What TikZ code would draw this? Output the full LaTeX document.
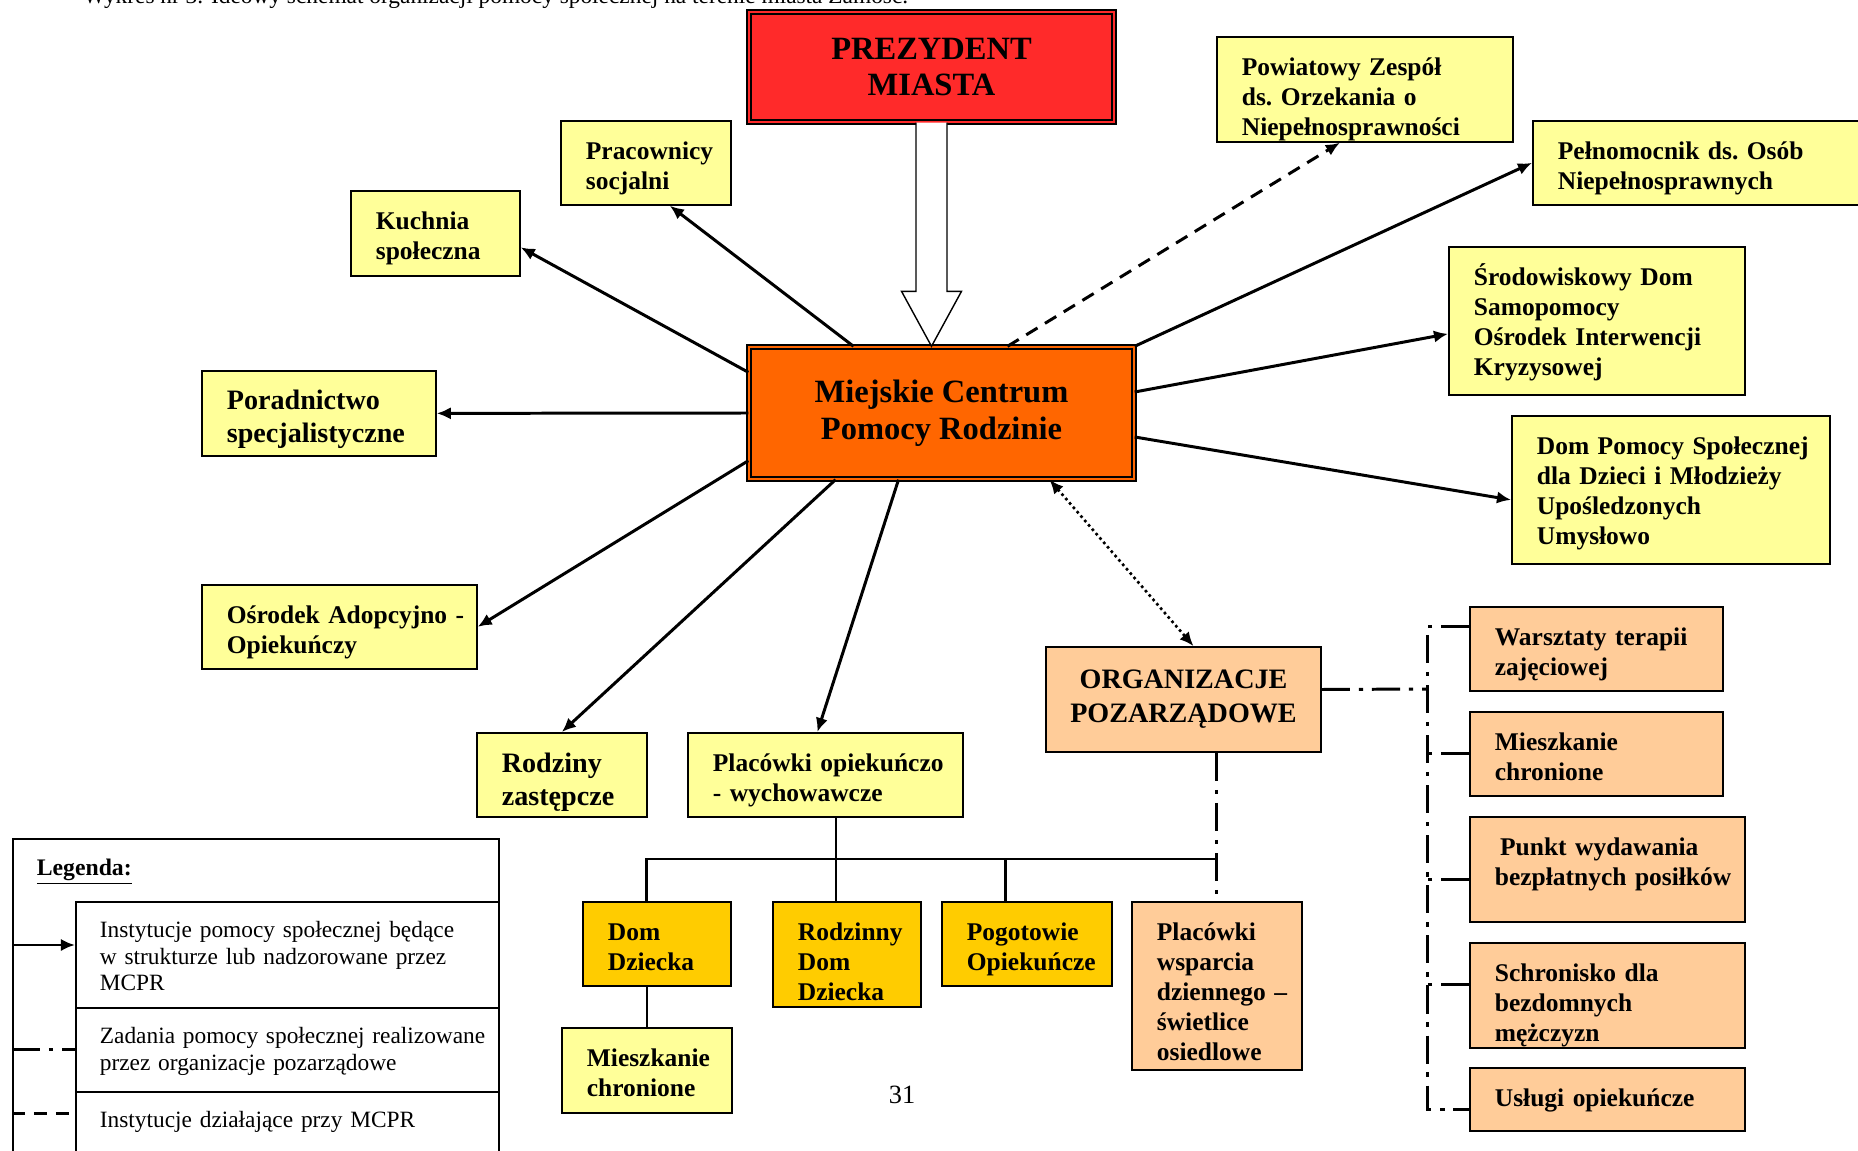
\documentclass[tikz,border=0pt]{standalone}
\usepackage{fontspec}
\setmainfont{Liberation Serif}
\usetikzlibrary{arrows.meta,calc}

\hyphenpenalty=10000
\exhyphenpenalty=10000

\definecolor{boxyellow}{HTML}{FFFF99}
\definecolor{presred}{HTML}{FF2A2A}
\definecolor{centreorange}{HTML}{FF6600}
\definecolor{ngopeach}{HTML}{FFCC99}
\definecolor{homegold}{HTML}{FFCC00}

\tikzset{
  lbox/.style={draw, line width=1pt, anchor=north west, inner xsep=0.5cm, inner ysep=0pt,
    align=left, text height=0.78cm, font=\bfseries\fontsize{14.5}{17}\selectfont},
  sz/.style 2 args={text width=#1cm, text depth=#2cm},
  cbox/.style={draw, line width=0.8pt, double distance=1.6pt, align=center, inner sep=0pt},
  legrow/.style={draw, line width=1pt, anchor=north west, inner xsep=0.48cm, inner ysep=0pt,
    align=left, text height=0.72cm, font=\fontsize{13.3}{15}\selectfont},
  arr/.style={line width=1.7pt, -{Latex[length=8pt,width=7pt]}},
  ngo/.style={line width=1.7pt, dash pattern=on 16pt off 5pt on 2.5pt off 5pt},
  tree/.style={line width=1.6pt}
}

\begin{document}
\begin{tikzpicture}[x=0.02cm, y=-0.02cm]
  \useasboundingbox (0,0) rectangle (1858,1151);

  % caption, cut by the page edge
  \node[anchor=base west, inner sep=0pt, font=\fontsize{13.3}{15}\selectfont] (caption) at (83,3.5)
    {Wykres nr 3. Ideowy schemat organizacji pomocy społecznej na terenie miasta Zamość.};

  % main boxes
  \node[cbox, fill=presred, double=presred, minimum width=7.3cm, minimum height=2.2cm,
    font=\bfseries\fontsize{18.5}{21}\selectfont] (prez) at (931.5,67) {PREZYDENT\\MIASTA};
  \node[cbox, fill=centreorange, double=centreorange, minimum width=7.7cm, minimum height=2.64cm,
    font=\bfseries\fontsize{18.5}{21}\selectfont] (mcpr) at (941.5,413) {Miejskie Centrum\\Pomocy Rodzinie};
  \node[draw, line width=1pt, fill=ngopeach, minimum width=5.5cm, minimum height=2.1cm, align=center,
    font=\bfseries\fontsize{16}{19.5}\selectfont] (org) at (1183.5,699.5) {ORGANIZACJE\\POZARZĄDOWE};

  \begin{scope}[every node/.style={lbox, fill=boxyellow}]
    \node[sz={2.4}{0.90}] (prac) at (560,120) {Pracownicy \\ socjalni};
    \node[sz={2.38}{0.92}] (kuch) at (350,190) {Kuchnia \\ społeczna};
    \node[sz={3.68}{0.92}, font=\bfseries\fontsize{16}{18.5}\selectfont] (por) at (201,370) {Poradnictwo \\ specjalistyczne};
    \node[sz={4.5}{0.90}] (osr) at (201,584) {Ośrodek~Adopcyjno~- \\ Opiekuńczy};
    \node[sz={2.4}{0.88}, text height=0.8cm, font=\bfseries\fontsize{16}{18.5}\selectfont] (rodz) at (476,732) {Rodziny \\ zastępcze};
    \node[sz={4.5}{0.90}] (plac) at (687,732) {Placówki~opiekuńczo \\ - wychowawcze};
    \node[sz={4.92}{1.32}] (powiat) at (1216,36) {Powiatowy~Zespół \\ ds.~Orzekania~o \\ Niepełnosprawności};
    \node[sz={5.76}{0.90}] (peln) at (1532,120) {Pełnomocnik~ds.~Osób \\ Niepełnosprawnych};
    \node[sz={4.92}{2.18}] (srod) at (1448,246) {Środowiskowy~Dom \\ Samopomocy \\ Ośrodek~Interwencji \\ Kryzysowej};
    \node[sz={5.36}{2.18}] (dps) at (1511,415) {Dom~Pomocy~Społecznej \\ dla~Dzieci~i~Młodzieży \\ Upośledzonych \\ Umysłowo};
    \node[sz={2.4}{0.92}] (mieszB) at (561,1027) {Mieszkanie \\ chronione};
  \end{scope}

  \begin{scope}[every node/.style={lbox, fill=homegold}]
    \node[sz={1.96}{0.90}] (domdz) at (582,901) {Dom \\ Dziecka};
    \node[sz={1.96}{1.32}] (rdd) at (772,901) {Rodzinny \\ Dom \\ Dziecka};
    \node[sz={2.4}{0.90}] (pogot) at (941,901) {Pogotowie \\ Opiekuńcze};
  \end{scope}

  \begin{scope}[every node/.style={lbox, fill=ngopeach}]
    \node[sz={2.4}{2.58}] (wsp) at (1131,901) {Placówki \\ wsparcia \\ dziennego~– \\ świetlice \\ osiedlowe};
    \node[sz={4.06}{0.90}] (warszt) at (1469,606) {Warsztaty~terapii \\ zajęciowej};
    \node[sz={4.06}{0.90}] (mieszR) at (1469,711) {Mieszkanie \\ chronione};
    \node[sz={4.5}{1.32}] (punkt) at (1469,816) {\hspace*{3pt}Punkt~wydawania \\ bezpłatnych~posiłków};
    \node[sz={4.5}{1.32}] (schr) at (1469,942) {Schronisko~dla \\ bezdomnych \\ mężczyzn};
    \node[sz={4.5}{0.48}] (uslugi) at (1469,1067) {Usługi~opiekuńcze};
  \end{scope}

  % hollow arrow from the president
  \coordinate (tip) at (prez.south |- mcpr.north);
  \draw[line width=0.8pt, fill=white] ($(prez.south)+(-15.5,0)$) -- ($(tip)+(-15.5,-55)$)
    -- ($(tip)+(-30,-55)$) -- (tip) -- ($(tip)+(30,-55)$) -- ($(tip)+(15.5,-55)$)
    -- ($(prez.south)+(15.5,0)$);

  % institutions of MCPR
  \begin{scope}[every edge/.style={draw, arr}]
    \path ($(mcpr.north)+(-88,0)$) edge ($(prac.south)+(24,0)$);
    \path ($(mcpr.north west)+(0,26)$) edge ($(kuch.east)+(0,14)$);
    \path (mcpr.west) edge (por.east);
    \path ($(mcpr.south west)+(0,-19)$) edge (osr.east);
    \path ($(mcpr.south)+(-106,0)$) edge (rodz.north);
    \path ($(mcpr.south)+(-43,0)$) edge ($(plac.north)+(-8,0)$);
    \path (mcpr.north east) edge (peln.west);
    \path ($(mcpr.east)+(0,-21)$) edge ($(srod.west)+(0,13)$);
    \path ($(mcpr.east)+(0,24)$) edge ($(dps.west)+(0,10)$);
  \end{scope}

  \draw[arr, dash pattern=on 7.5pt off 5pt] ($(mcpr.north)+(66,0)$) -- ($(powiat.south)+(-25,0)$);
  \draw[line width=1.5pt, dash pattern=on 1.5pt off 1.8pt, {Latex[length=8pt,width=7pt]}-{Latex[length=8pt,width=7pt]}]
    ($(mcpr.south)+(108,0)$) -- ($(org.north)+(10,0)$);

  % care homes
  \coordinate (jn) at (836,859);
  \draw[tree] (jn |- plac.south) -- (jn |- rdd.north);
  \draw[tree] (mieszB.north |- domdz.north) |- (jn -| wsp.north);
  \draw[tree] ($(pogot.north)+(-21,0)$) -- ++(0,-42);
  \draw[line width=0.9pt] (mieszB.north |- domdz.south) -- (mieszB.north);

  % organisations
  \coordinate (bus) at (1427,689);
  \draw[ngo] (org.south -| wsp.north) -- (wsp.north);
  \draw[ngo] ($(org.east)+(0,-10)$) -- (bus);
  \draw[ngo] ($(warszt.west)+(0,-22)$) -- ($(warszt.west)+(-42,-22)$) |- ($(uslugi.west)+(0,10)$);
  \draw[ngo] (mieszR.west) -- (mieszR.west -| bus);
  \draw[ngo] ($(punkt.west)+(0,10)$) -- ++(-42,0);
  \draw[ngo] ($(schr.west)+(0,-11)$) -- ++(-42,0);

  % legend
  \node[legrow, text height=0.74cm, sz={8.76}{6.0}, font=\bfseries\fontsize{13.5}{15}\selectfont] (legend) at (12,838) {\underline{Legenda:}};
  \node[legrow, sz={7.5}{1.40}] (leg1) at (75,901) {Instytucje~pomocy~społecznej~będące \\ w~strukturze~lub~nadzorowane~przez \\ MCPR};
  \node[legrow, sz={7.5}{0.96}] (leg2) at (75,1007) {Zadania~pomocy~społecznej~realizowane \\ przez~organizacje~pozarządowe};
  \node[legrow, sz={7.5}{0.96}] (leg3) at (75,1091) {Instytucje~działające~przy~MCPR};

  \coordinate (s1) at (12,945);
  \coordinate (s2) at (12,1049);
  \coordinate (s3) at (12,1113);
  \draw[arr] (s1) -- (s1 -| leg1.west);
  \draw[ngo] (s2) -- (s2 -| leg2.west);
  \draw[line width=1.7pt, dash pattern=on 7.5pt off 5pt] (s3) -- (s3 -| leg3.west);

  \node[font=\fontsize{15}{18}\selectfont] (pagenum) at (902,1095) {31};
\end{tikzpicture}
\end{document}
